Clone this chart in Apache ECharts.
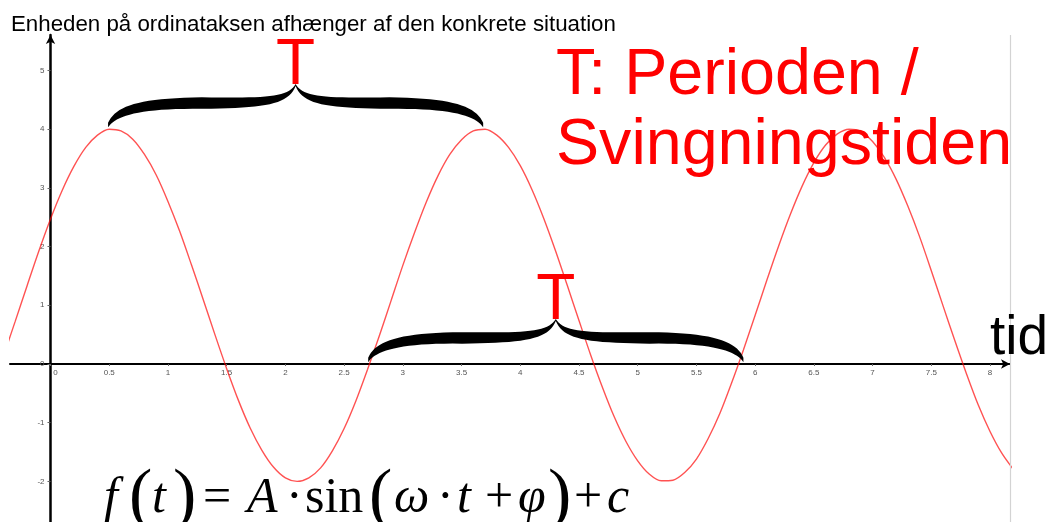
<!DOCTYPE html>
<html>
<head>
<meta charset="utf-8">
<script src="https://cdn.jsdelivr.net/npm/echarts@6/dist/echarts.min.js"></script>
<style>
  html, body { margin: 0; padding: 0; background: #fff; }
  #chart { width: 1046px; height: 522px; }
</style>
</head>
<body>
<div id="chart"></div>
<script>
// aflæst fra kurven, trin 0.1
const tValues = [-0.4, -0.3, -0.2, -0.1, 0, 0.1, 0.2, 0.3, 0.4, 0.5, 0.6, 0.7, 0.8, 0.9, 1.0, 1.1, 1.2, 1.3, 1.4, 1.5,
  1.6, 1.7, 1.8, 1.9, 2.0, 2.1, 2.2, 2.3, 2.4, 2.5, 2.6, 2.7, 2.8, 2.9, 3.0, 3.1, 3.2, 3.3, 3.4, 3.5,
  3.6, 3.7, 3.8, 3.9, 4.0, 4.1, 4.2, 4.3, 4.4, 4.5, 4.6, 4.7, 4.8, 4.9, 5.0, 5.1, 5.2, 5.3, 5.4, 5.5,
  5.6, 5.7, 5.8, 5.9, 6.0, 6.1, 6.2, 6.3, 6.4, 6.5, 6.6, 6.7, 6.8, 6.9, 7.0, 7.1, 7.2, 7.3, 7.4, 7.5,
  7.6, 7.7, 7.8, 7.9, 8.0, 8.1, 8.2]
const fValues = [0.14, 0.73, 1.33, 1.92, 2.47, 2.96, 3.37, 3.69, 3.90, 4.00, 3.97, 3.83, 3.57, 3.22, 2.77, 2.26, 1.69, 1.10, 0.50, -0.08,
  -0.62, -1.09, -1.47, -1.76, -1.94, -2.00, -1.94, -1.77, -1.48, -1.10, -0.63, -0.09, 0.48, 1.08, 1.68, 2.24, 2.76, 3.21, 3.57, 3.82,
  3.97, 4.00, 3.90, 3.69, 3.38, 2.97, 2.48, 1.93, 1.34, 0.74, 0.15, -0.40, -0.90, -1.32, -1.65, -1.88, -1.99, -1.98, -1.85, -1.62,
  -1.27, -0.84, -0.32, 0.24, 0.83, 1.43, 2.01, 2.55, 3.03, 3.43, 3.73, 3.92, 4.00, 3.96, 3.79, 3.52, 3.15, 2.69, 2.17, 1.59,
  0.99, 0.40, -0.17, -0.70, -1.15, -1.52, -1.80]
const xTicks = [0, 0.5, 1, 1.5, 2, 2.5, 3, 3.5, 4, 4.5, 5, 5.5, 6, 6.5, 7, 7.5, 8]
const yTicks = [-2, -1, 0, 1, 2, 3, 4, 5]
// tuborgklammer: start, slut og niveau (t, f)
const braceStart = [0.49, 2.705]
const braceEnd = [3.684, 5.90]
const braceLevel = [4.07, 0.07]

const xMin = -0.345, xMax = 8.17
const yMin = -2.692, yMax = 5.605
const gridLeft = 10, gridRight = 36, gridTop = 35, gridBottom = 0
const W = 1046, H = 522

// akserne skal ligge i nulpunktet
let x0px = gridLeft + (W - gridLeft - gridRight) * (0 - xMin) / (xMax - xMin)
let y0px = gridTop + (H - gridTop - gridBottom) * (yMax - 0) / (yMax - yMin)

let myChart = echarts.init(document.getElementById("chart"))

myChart.setOption({
  animation: false,
  grid: { left: gridLeft, right: gridRight, top: gridTop, bottom: gridBottom, outerBoundsMode: "none" },
  xAxis: {
    type: "value",
    min: xMin,
    max: xMax,
    position: "bottom",
    offset: -(H - gridBottom - y0px),
    splitLine: { show: false },
    axisLine: {
      onZero: false,
      symbol: ["none", "arrow"],
      symbolSize: [7, 9],
      lineStyle: { color: "#000", width: 2 }
    },
    axisTick: { show: true, customValues: xTicks, length: 2, lineStyle: { color: "#666" } },
    axisLabel: {
      customValues: xTicks,
      fontSize: 8,
      color: "#555",
      fontFamily: "Liberation Sans",
      margin: 5,
      formatter: function (v) { return v === 0 ? "{z|0}" : String(v) },
      rich: { z: { fontSize: 8, color: "#555", padding: [0, 0, 0, 10] } }
    }
  },
  yAxis: {
    type: "value",
    min: yMin,
    max: yMax,
    position: "left",
    offset: -(x0px - gridLeft),
    splitLine: { show: false },
    axisLine: {
      onZero: false,
      symbol: ["none", "arrow"],
      symbolSize: [7, 9],
      lineStyle: { color: "#000", width: 2.5 }
    },
    axisTick: { show: true, customValues: yTicks, length: 3, lineStyle: { color: "#666" } },
    axisLabel: {
      customValues: yTicks,
      fontSize: 8,
      color: "#555",
      fontFamily: "Liberation Sans",
      margin: 6
    }
  },
  series: [
    {
      type: "line",
      data: tValues.map((t, i) => [t, fValues[i]]),
      smooth: 0.3,
      showSymbol: false,
      clip: true,
      lineStyle: { color: "rgba(255,0,0,0.68)", width: 1.4 },
      markLine: {
        silent: true,
        symbol: "none",
        label: { show: false },
        lineStyle: { color: "#d3d3d3", width: 1.2, type: "solid" },
        data: [{ xAxis: xMax }]
      }
    }
  ]
})

function cubic(p0, p1, p2, p3, n) {
  let out = []
  for (let i = 1; i <= n; i++) {
    let s = i / n, u = 1 - s
    out.push([
      u * u * u * p0[0] + 3 * u * u * s * p1[0] + 3 * u * s * s * p2[0] + s * s * s * p3[0],
      u * u * u * p0[1] + 3 * u * u * s * p1[1] + 3 * u * s * s * p2[1] + s * s * s * p3[1]
    ])
  }
  return out
}

// klammer-kant, d = forskydning af kanten
function braceEdge(x1, x2, yb, h, d) {
  let w = x2 - x1, xm = (x1 + x2) / 2
  let ym = yb - 0.55 * h, yt = yb - h
  let dE = d * 0.45, dT = d * 0.2
  let P = [
    [x1, yb + dE],
    [x1 + 0.02 * w, ym + d + 0.2 * h], [x1 + 0.08 * w, ym + d], [x1 + 0.25 * w, ym + d * 1.15],
    [x1 + 0.42 * w, ym + d], [xm - 0.02 * w, ym - 0.05 * h + d * 0.7], [xm, yt + dT]
  ]
  let left = [P[0]].concat(cubic(P[0], P[1], P[2], P[3], 20), cubic(P[3], P[4], P[5], P[6], 20))
  let right = left.slice(0, -1).reverse().map(p => [2 * xm - p[0], p[1]])
  return left.concat(right)
}
function bracePoints(x1, x2, yb, h, th) {
  let up = braceEdge(x1, x2, yb, h, -th / 2)
  let lo = braceEdge(x1, x2, yb, h, th / 2).reverse()
  return up.concat(lo)
}

let graphics = []
for (let k = 0; k < braceStart.length; k++) {
  let p1 = myChart.convertToPixel({ gridIndex: 0 }, [braceStart[k], braceLevel[k]])
  let p2 = myChart.convertToPixel({ gridIndex: 0 }, [braceEnd[k], braceLevel[k]])
  let h = 40
  graphics.push({
    type: "polygon",
    shape: { points: bracePoints(p1[0], p2[0], p1[1], h, 10) },
    style: { fill: "#000" },
    z: 10
  })
  graphics.push({
    type: "text",
    x: (p1[0] + p2[0]) / 2,
    y: p1[1] - h - 19,
    style: {
      text: "T",
      fill: "#ff0000",
      font: "64px 'Liberation Sans'",
      align: "center",
      verticalAlign: "middle"
    },
    z: 10
  })
}

graphics.push(
  {
    type: "text", x: 11, y: 25, z: 20,
    style: {
      text: "Enheden på ordinataksen afhænger af den konkrete situation",
      fill: "#000", font: "22.3px 'Liberation Sans'", verticalAlign: "middle"
    }
  },
  {
    type: "text", x: 556, y: 76, z: 20,
    style: { text: "T: Perioden /", fill: "#ff0000", font: "64.6px 'Liberation Sans'", verticalAlign: "middle" }
  },
  {
    type: "text", x: 556, y: 146, z: 20,
    style: { text: "Svingningstiden", fill: "#ff0000", font: "64.6px 'Liberation Sans'", verticalAlign: "middle" }
  },
  {
    type: "text", x: 990, y: 339, z: 20,
    style: { text: "tid", fill: "#000", font: "55px 'Liberation Sans'", verticalAlign: "middle" }
  }
)

// formlen f(t) = A·sin(ω·t+φ)+c, stykke for stykke
const serif = "'Liberation Serif'"
const formula = [
  ["f", 104, "italic 50px"], ["(", 129, "70px"], ["t", 152, "italic 50px"], [")", 173, "70px"],
  ["=", 203, "50px"], ["A", 247, "italic 50px"], ["·", 286, "50px"], ["sin", 305, "50px"],
  ["(", 369, "70px"], ["ω", 394, "italic 50px"], ["·", 437, "50px"], ["t", 457, "italic 50px"],
  ["+", 485, "50px"], ["φ", 518, "italic 50px"], [")", 548, "70px"], ["+", 574, "50px"], ["c", 607, "italic 50px"]
]
formula.forEach(p => {
  graphics.push({
    type: "text", x: p[1], y: 499, z: 20,
    style: { text: p[0], fill: "#000", font: p[2] + " " + serif, verticalAlign: "middle" }
  })
})

myChart.setOption({ graphic: graphics })
</script>
</body>
</html>
